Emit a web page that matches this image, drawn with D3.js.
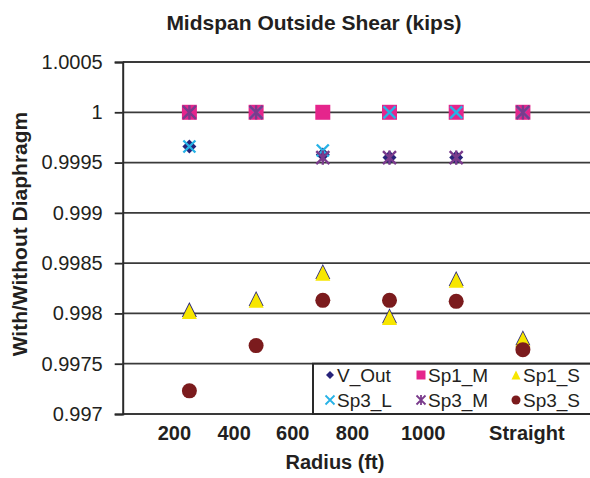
<!DOCTYPE html>
<html>
<head>
<meta charset="utf-8">
<title>Midspan Outside Shear</title>
<script src="https://cdn.jsdelivr.net/npm/d3@7"></script>
<style>
  body { margin: 0; background: #fff; }
  text { font-family: "Liberation Sans", Arial, sans-serif; fill: #231f20; }
</style>
</head>
<body>
<div id="chart"></div>
<script>
var W = 590, H = 478;

// categories along x (Radius)
var categories = ["200", "400", "600", "800", "1000", "Straight"];
// y tick labels
var yTicks = [0.997, 0.9975, 0.998, 0.9985, 0.999, 0.9995, 1, 1.0005];
var yTickLabels = ["0.997", "0.9975", "0.998", "0.9985", "0.999", "0.9995", "1", "1.0005"];

// series values (ratio with/without diaphragm)
var vOut  = [0.99966, 1, 0.99958, 0.99955, 0.99955, 1];
var sp1M  = [1, 1, 1, 1, 1, 1];
var sp1S  = [0.99802, 0.99813, 0.99840, 0.99796, 0.99833, 0.99774];
var sp3L  = [0.99966, 1, 0.99962, 1, 1, 1];
var sp3M  = [1, 1, 0.99955, 0.99955, 0.99955, 1];
var sp3S  = [0.99723, 0.99768, 0.99813, 0.99813, 0.99812, 0.99764];

var seriesNames = ["V_Out", "Sp1_M", "Sp1_S", "Sp3_L", "Sp3_M", "Sp3_S"];

// label nudges (the original's labels sit a little off the marker columns)
var labelShift = [-15, -22, -30, -37, -33, 4];

var series = [
  { name: seriesNames[0], values: vOut, shape: "diamond", color: "#27237a" },
  { name: seriesNames[1], values: sp1M, shape: "square",  color: "#e5258c" },
  { name: seriesNames[2], values: sp1S, shape: "triangle", color: "#f7e600" },
  { name: seriesNames[3], values: sp3L, shape: "x",       color: "#27b2e6" },
  { name: seriesNames[4], values: sp3M, shape: "star",    color: "#7a3b8c" },
  { name: seriesNames[5], values: sp3S, shape: "circle",  color: "#7b1b1d" }
];

var svg = d3.select("#chart").append("svg")
  .attr("width", W).attr("height", H);

var x = d3.scaleLinear().domain([0, 7]).range([122.7, 589.6]);
var y = d3.scaleLinear().domain([0.997, 1.0005]).range([414, 62]);

// gridlines
svg.append("g").selectAll("line")
  .data(yTicks)
  .enter().append("line")
  .attr("x1", x(0)).attr("x2", W)
  .attr("y1", function(d) { return y(d); })
  .attr("y2", function(d) { return y(d); })
  .attr("stroke", "#3a3a3a")
  .attr("stroke-width", 1.8);

// y axis
var yAxis = d3.axisLeft(y)
  .tickValues(yTicks)
  .tickSize(8)
  .tickFormat(function(d, i) { return yTickLabels[i]; });
var ga = svg.append("g").attr("transform", "translate(" + x(0) + ",0)").call(yAxis);
ga.select(".domain").attr("stroke", "#2a2a2a").attr("stroke-width", 2);
ga.selectAll(".tick line").attr("stroke", "#2a2a2a").attr("stroke-width", 1.8);
ga.selectAll(".tick text")
  .attr("x", -20)
  .style("font-family", "'Liberation Sans', Arial, sans-serif")
  .style("font-size", "20px")
  .attr("fill", "#231f20");

// x tick labels
svg.append("g").selectAll("text")
  .data(categories)
  .enter().append("text")
  .attr("x", function(d, i) { return x(i + 1) + labelShift[i]; })
  .attr("y", 440)
  .attr("text-anchor", "middle")
  .attr("font-size", "20px")
  .attr("font-weight", "bold")
  .text(function(d) { return d; });

// marker shapes
function markerPath(shape, s) {
  var h = s / 2;
  switch (shape) {
    case "diamond": return "M0," + (-h) + "L" + h + ",0L0," + h + "L" + (-h) + ",0Z";
    case "square": return "M" + (-h) + "," + (-h) + "h" + s + "v" + s + "h" + (-s) + "Z";
    case "triangle": return "M0," + (-h) + "L" + h + "," + h + "L" + (-h) + "," + h + "Z";
    case "x": return "M" + (-h) + "," + (-h) + "L" + h + "," + h + "M" + h + "," + (-h) + "L" + (-h) + "," + h;
    case "star": return "M" + (-h) + "," + (-h) + "L" + h + "," + h + "M" + h + "," + (-h) + "L" + (-h) + "," + h + "M0," + (-h * 1.1) + "L0," + (h * 1.1);
    case "circle": return d3.symbol(d3.symbolCircle, Math.PI * h * h)();
  }
}
var plotSize = { diamond: 14, square: 15, triangle: 15, x: 12, star: 13, circle: 15 };
var legSize = { diamond: 8, square: 9, triangle: 9, x: 9, star: 9, circle: 9 };

function drawMarker(g, shape, color, s, lw) {
  if (shape === "triangle") {
    g.append("path").attr("d", markerPath(shape, s))
      .attr("transform", "translate(0,-1.8)")
      .attr("fill", "#27237a");
  }
  var p = g.append("path").attr("d", markerPath(shape, s));
  if (shape === "x" || shape === "star") {
    p.attr("fill", "none").attr("stroke", color).attr("stroke-width", lw);
  } else {
    p.attr("fill", color);
  }
}

series.forEach(function(sr) {
  var g = svg.append("g").attr("class", "series");
  sr.values.forEach(function(v, i) {
    var m = g.append("g").attr("transform", "translate(" + x(i + 1) + "," + y(v) + ")");
    drawMarker(m, sr.shape, sr.color, plotSize[sr.shape], 2.4);
  });
});

// legend
var leg = svg.append("g");
leg.append("rect")
  .attr("x", 313).attr("y", y(0.9975))
  .attr("width", 282).attr("height", y(0.997) - y(0.9975))
  .attr("fill", "#fff")
  .attr("stroke", "#2a2a2a").attr("stroke-width", 2);
var colX = [330, 421, 516];
var rowY = [375, 400];
series.forEach(function(sr, i) {
  var cx = colX[i % 3], cy = rowY[Math.floor(i / 3)];
  var m = leg.append("g").attr("transform", "translate(" + cx + "," + cy + ")");
  if (sr.shape === "triangle") {
    m.append("path").attr("d", markerPath("triangle", legSize.triangle)).attr("fill", sr.color);
  } else {
    drawMarker(m, sr.shape, sr.color, legSize[sr.shape], 1.8);
  }
  leg.append("text")
    .attr("x", cx + 7).attr("y", cy + 6.5)
    .attr("font-size", "19px")
    .text(sr.name);
});

// titles
svg.append("text")
  .attr("x", 314).attr("y", 30)
  .attr("text-anchor", "middle")
  .attr("font-size", "21px").attr("font-weight", "bold")
  .text("Midspan Outside Shear (kips)");

svg.append("text")
  .attr("x", 335).attr("y", 469)
  .attr("text-anchor", "middle")
  .attr("font-size", "20px").attr("font-weight", "bold")
  .text("Radius (ft)");

svg.append("text")
  .attr("transform", "translate(27,234) rotate(-90)")
  .attr("text-anchor", "middle")
  .attr("font-size", "21px").attr("font-weight", "bold")
  .text("With/Without Diaphragm");
</script>
</body>
</html>
